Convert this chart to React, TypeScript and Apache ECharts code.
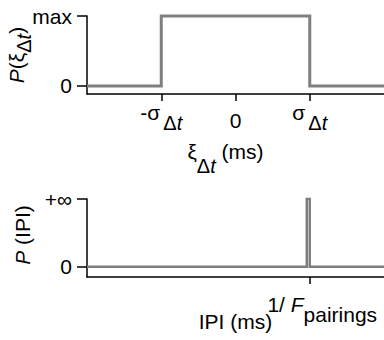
import React, { useEffect, useRef } from 'react';
import * as echarts from 'echarts';

// Top panel: uniform distribution of the timing error ξ_Δt on [-σ, σ]
const xiTicks = [-1, 0, 1];
const xiStepX = [-2, -1, -1, 1, 1, 2];
const xiStepP = [0, 0, 1, 1, 0, 0];
const xiYTicks = [0, 1];
const xiYLabels = ['0', 'max'];

// Bottom panel: IPI distribution, a single spike at 1/F_pairings
const ipiTicks = [3];
const ipiX = [0, 2.96, 2.96, 3.0, 3.0, 4];
const ipiP = [0, 0, 1, 1, 0, 0];
const ipiYTicks = [0, 1];
const ipiYLabels = ['0', '+∞'];

const FONT = "'Liberation Sans', Arial, Helvetica, sans-serif";
const GRAY = '#7f7f7f';
const BLACK = '#000';
const SUB = 20;

const base = { fontFamily: FONT, fontSize: 21, color: BLACK };

// a rich-text token of fixed box height, placed at the top of its line
const tok = (h: number, extra: object = {}) => ({
  ...base,
  height: h,
  lineHeight: h,
  verticalAlign: 'top',
  ...extra,
});

const tickRich = {
  m: tok(26),
  s: tok(47, { fontSize: SUB, padding: [0, 0, 0, 3] }),
  si: tok(47, { fontSize: SUB, fontStyle: 'italic' }),
  z: tok(42),
};

const xiNameRich = {
  m: tok(20),
  s: tok(50, { fontSize: SUB }),
  si: tok(50, { fontSize: SUB, fontStyle: 'italic' }),
};

const pRich = {
  pi: tok(20, { fontStyle: 'italic' }),
  m: tok(20),
  s: tok(36, { fontSize: SUB }),
  si: tok(36, { fontSize: SUB, fontStyle: 'italic' }),
};

const ipiLabelRich = {
  m: tok(20),
  mi: tok(20, { fontStyle: 'italic' }),
  s: tok(40),
};

const axisLine = { show: true, onZero: false, lineStyle: { color: BLACK, width: 1.5 } };

function App() {
  const ref = useRef<HTMLDivElement>(null);

  useEffect(() => {
    if (!ref.current) return;
    const chart = echarts.init(ref.current, null, { renderer: 'svg' });
    chart.setOption({
      animation: false,
      backgroundColor: '#fff',
      grid: [
        { left: 87, top: 16, width: 297, height: 78, outerBoundsMode: 'none', containLabel: false },
        { left: 87, top: 199, width: 297, height: 78, outerBoundsMode: 'none', containLabel: false },
      ],
      xAxis: [
        {
          gridIndex: 0,
          type: 'value',
          min: -2,
          max: 2,
          splitLine: { show: false },
          axisLine,
          axisTick: { show: true, length: 7, customValues: xiTicks, lineStyle: { color: BLACK, width: 1.5 } },
          axisLabel: {
            customValues: xiTicks,
            margin: 5,
            formatter: (v: number) => {
              if (v === 0) return '{z|0}';
              return (v < 0 ? '{m|-σ}' : '{m|σ}') + '{s|Δ}{si|t}';
            },
            rich: tickRich,
          },
          name: '{m|ξ}{s|Δ}{si|t}{m| (ms)}',
          nameLocation: 'middle',
          nameGap: 47,
          nameMoveOverlap: false,
          nameTextStyle: { padding: [0, 20, 0, 0], rich: xiNameRich },
        },
        {
          gridIndex: 1,
          type: 'value',
          min: 0,
          max: 4,
          splitLine: { show: false },
          axisLine,
          axisTick: { show: true, length: 7, customValues: ipiTicks, lineStyle: { color: BLACK, width: 1.5 } },
          axisLabel: {
            customValues: ipiTicks,
            margin: 17,
            padding: [0, 0, 0, 25],
            formatter: () => '{m|1/ }{mi|F}{s|pairings}',
            rich: ipiLabelRich,
          },
          name: 'IPI (ms)',
          nameLocation: 'middle',
          nameGap: 34,
          nameMoveOverlap: false,
          nameTextStyle: { ...base, lineHeight: 20, verticalAlign: 'top' },
        },
      ],
      yAxis: [
        {
          gridIndex: 0,
          type: 'value',
          min: -0.115,
          max: 1,
          splitLine: { show: false },
          axisLine,
          axisTick: { show: true, length: 10, customValues: xiYTicks, lineStyle: { color: BLACK, width: 1.5 } },
          axisLabel: {
            customValues: xiYTicks,
            margin: 15,
            formatter: (v: number) => xiYLabels[xiYTicks.indexOf(v)] ?? '',
            ...base,
          },
          name: '{pi|P}{m|(ξ}{s|Δ}{si|t}{m|)}',
          nameLocation: 'middle',
          nameGap: 45,
          nameMoveOverlap: false,
          nameTextStyle: { rich: pRich },
        },
        {
          gridIndex: 1,
          type: 'value',
          min: -0.15,
          max: 1,
          splitLine: { show: false },
          axisLine,
          axisTick: { show: true, length: 10, customValues: ipiYTicks, lineStyle: { color: BLACK, width: 1.5 } },
          axisLabel: {
            customValues: ipiYTicks,
            margin: 15,
            formatter: (v: number) => ipiYLabels[ipiYTicks.indexOf(v)] ?? '',
            ...base,
          },
          name: '{pi|P}{m| (IPI)}',
          nameLocation: 'middle',
          nameGap: 55,
          nameMoveOverlap: false,
          nameTextStyle: { padding: [0, 0, 0, 6], rich: pRich },
        },
      ],
      series: [
        {
          type: 'line',
          xAxisIndex: 0,
          yAxisIndex: 0,
          data: xiStepX.map((x, i) => [x, xiStepP[i]]),
          showSymbol: false,
          lineStyle: { color: GRAY, width: 3, join: 'miter' },
          clip: false,
        },
        {
          type: 'line',
          xAxisIndex: 1,
          yAxisIndex: 1,
          data: ipiX.map((x, i) => [x, ipiP[i]]),
          showSymbol: false,
          lineStyle: { color: GRAY, width: 2.5, join: 'miter' },
          clip: false,
        },
      ],
    });
    return () => chart.dispose();
  }, []);

  return <div ref={ref} style={{ width: 384, height: 340, position: 'absolute', left: 0, top: 0 }} />;
}

export default App;
